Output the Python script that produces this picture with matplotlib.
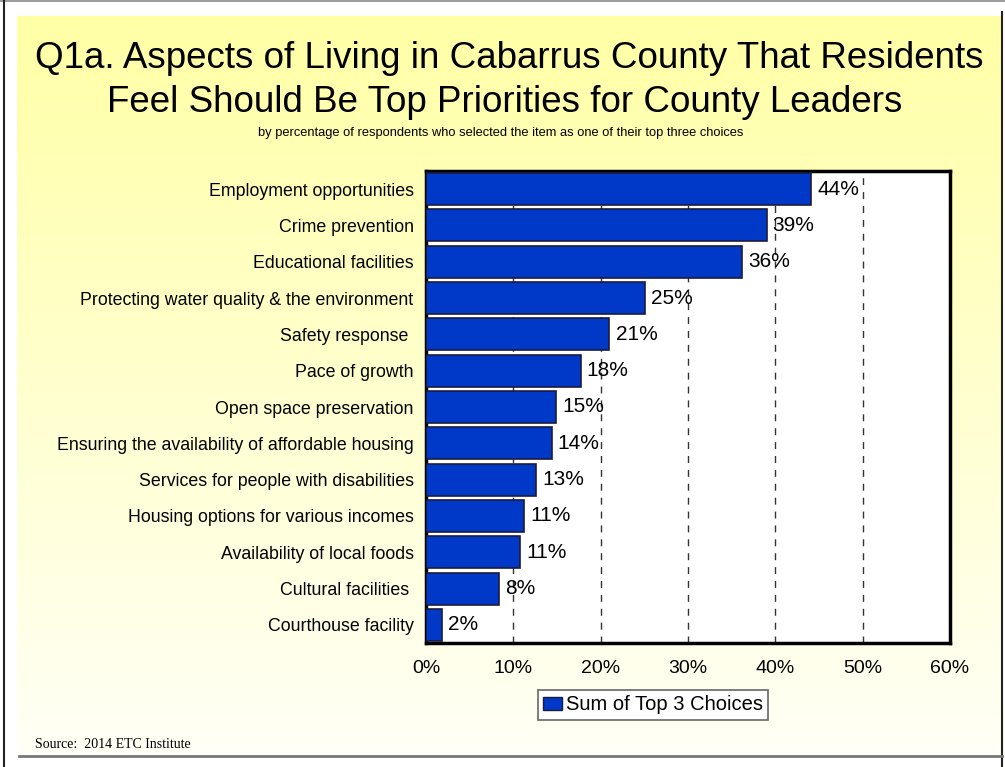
import numpy as np
import matplotlib.pyplot as plt
from matplotlib.patches import Patch

plt.rcParams['font.family'] = ['Liberation Sans', 'DejaVu Sans']

categories = [
    'Employment opportunities',
    'Crime prevention',
    'Educational facilities',
    'Protecting water quality & the environment',
    'Safety response ',
    'Pace of growth',
    'Open space preservation',
    'Ensuring the availability of affordable housing',
    'Services for people with disabilities',
    'Housing options for various incomes',
    'Availability of local foods',
    'Cultural facilities ',
    'Courthouse facility',
]
top3_pct = [44.1, 39.0, 36.2, 25.1, 21.0, 17.7, 14.9, 14.4, 12.6, 11.2, 10.8, 8.4, 1.8]
x_ticks = [0, 10, 20, 30, 40, 50, 60]
series_name = 'Sum of Top 3 Choices'

W, H = 1005, 767
bar_color = '#0038C8'
fig = plt.figure(figsize=(W / 100, H / 100), dpi=100)

# slide background: pale yellow gradient panel with a thin frame
bg = fig.add_axes([0, 0, 1, 1], zorder=0)
bg.set_xlim(0, W)
bg.set_ylim(H, 0)
bg.axis('off')
top_c = np.array([255, 255, 166]) / 255
bot_c = np.array([255, 255, 246]) / 255
t = np.linspace(0, 1, 256)[:, None]
grad = (top_c * (1 - t) + bot_c * t)[:, None, :]
bg.imshow(grad, extent=[17, 1001, 754, 16], aspect='auto', interpolation='bilinear')
bg.plot([0, W], [1, 1], color='#8a8a8a', lw=1.2)
bg.plot([4, 4], [0, H], color='#222222', lw=1.5)
bg.plot([1002, 1002], [12, H], color='#222222', lw=1.5)
bg.plot([19, 1002], [755.5, 755.5], color='#777777', lw=2)

fig.text(509 / W, 1 - 58 / H, 'Q1a. Aspects of Living in Cabarrus County That Residents',
         ha='center', va='center', fontsize=26.5)
fig.text(505 / W, 1 - 103 / H, 'Feel Should Be Top Priorities for County Leaders',
         ha='center', va='center', fontsize=26.5)
fig.text(501 / W, 1 - 133 / H,
         'by percentage of respondents who selected the item as one of their top three choices',
         ha='center', va='center', fontsize=9.3)
fig.text(35 / W, 1 - 745 / H, 'Source:  2014 ETC Institute', ha='left', va='center',
         fontsize=10, family='Liberation Serif')

ax = fig.add_axes([426 / W, (H - 643) / H, 524 / W, 472 / H], zorder=2)
ax.set_facecolor('white')
y = np.arange(len(categories))
ax.barh(y, top3_pct, height=0.88, color=bar_color, edgecolor='#1c1c3c', lw=1.2, zorder=3)
for yi, v in zip(y, top3_pct):
    ax.text(v + 0.7, yi, f'{v:.0f}%', va='center', ha='left', fontsize=15, zorder=4)

ax.set_xlim(0, 60)
ax.set_ylim(len(categories) - 0.5, -0.5)
ax.set_xticks(x_ticks)
ax.set_xticklabels([f'{v}%' for v in x_ticks], fontsize=14)
ax.set_yticks(y)
ax.set_yticklabels(categories, fontsize=12.8)
ax.tick_params(axis='both', length=0)
ax.tick_params(axis='x', pad=12)
ax.tick_params(axis='y', pad=9)
ax.xaxis.grid(True, linestyle=(0, (5, 5)), color='#333333', lw=1)
ax.set_axisbelow(True)
for s in ax.spines.values():
    s.set_linewidth(2.5)
    s.set_color('black')

leg = fig.legend(handles=[Patch(facecolor=bar_color, edgecolor='#1c1c3c', lw=1)],
                 labels=[series_name], loc='center',
                 bbox_to_anchor=(653 / W, 1 - 705 / H), fontsize=14.5,
                 handlelength=0.9, handleheight=0.6, handletextpad=0.2,
                 borderpad=0.25, fancybox=False, framealpha=1,
                 facecolor='white', edgecolor='#666666')
leg.get_frame().set_linewidth(1.2)

fig.savefig('out.png', dpi=100)
